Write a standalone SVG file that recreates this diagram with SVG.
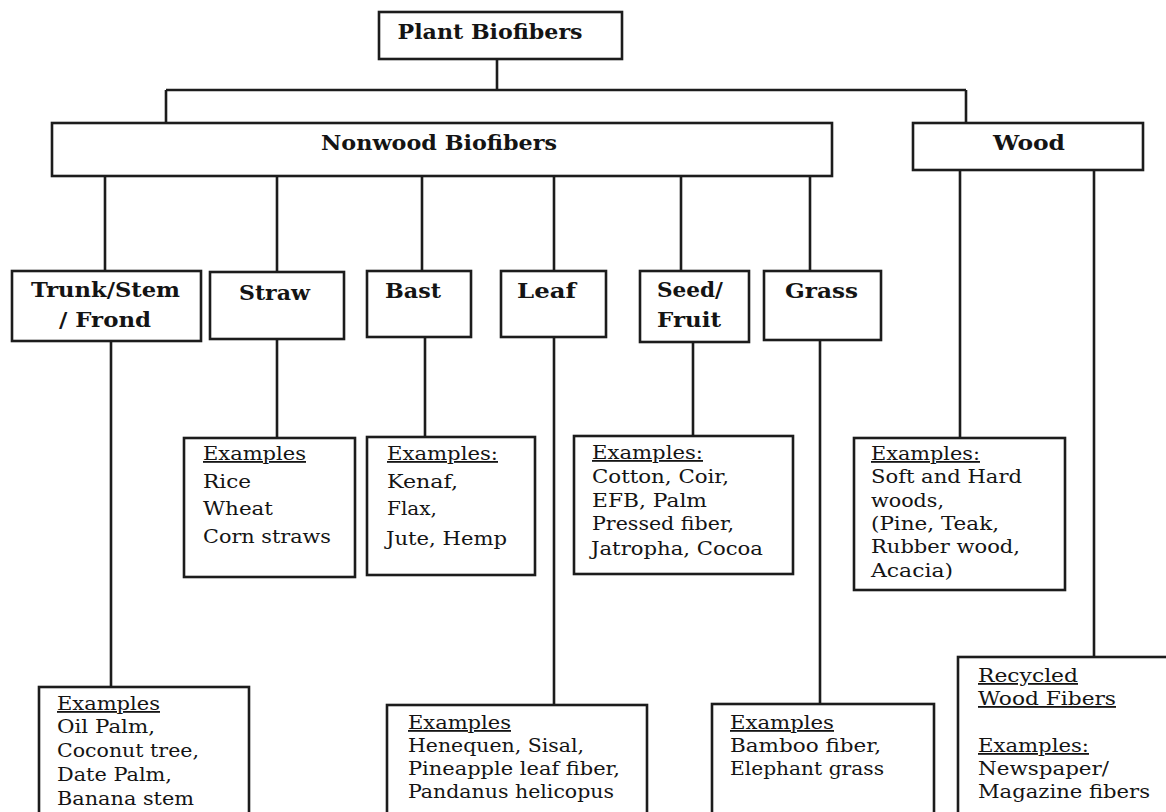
<svg xmlns="http://www.w3.org/2000/svg" width="1166" height="812" viewBox="0 0 1166 812">
<style>
.box{fill:#fff;stroke:#1c1c1c;stroke-width:2.6}
.ln{stroke:#1c1c1c;stroke-width:2.6;fill:none}
.h{font-family:"DejaVu Serif","Liberation Serif",serif;font-weight:bold;font-size:20px;fill:#141414}
.t{font-family:"DejaVu Serif","Liberation Serif",serif;font-size:18px;fill:#141414}
.u{text-decoration:underline}
</style>
<rect width="1166" height="812" fill="#fff"/>
<g id="connectors">
<path class="ln" d="M497,59V90M166,90H966M166,90V123M966,90V123"/>
<path class="ln" d="M105,176V271M277,176V272M422,176V271M554,176V271M681,176V271M810,176V271"/>
<path class="ln" d="M960,170V438M1094,170V657"/>
<path class="ln" d="M111,341V687M277,339V438M425,337V437M554,337V705M693,342V436M820,340V704"/>
</g>
<g id="plant"><rect class="box" x="379" y="12" width="243" height="47"/><text class="h" x="490" y="39" text-anchor="middle" textLength="185" lengthAdjust="spacingAndGlyphs">Plant Biofibers</text></g>
<g id="nonwood"><rect class="box" x="52" y="123" width="780" height="53"/><text class="h" x="439" y="150" text-anchor="middle" textLength="236" lengthAdjust="spacingAndGlyphs">Nonwood Biofibers</text></g>
<g id="wood"><rect class="box" x="913" y="123" width="230" height="47"/><text class="h" x="1029" y="150" text-anchor="middle" textLength="72" lengthAdjust="spacingAndGlyphs">Wood</text></g>
<g id="trunk"><rect class="box" x="12" y="271" width="189" height="70"/><text class="h" x="31" y="297" textLength="149" lengthAdjust="spacingAndGlyphs">Trunk/Stem</text><text class="h" x="59" y="327" textLength="92" lengthAdjust="spacingAndGlyphs">/ Frond</text></g>
<g id="straw"><rect class="box" x="210" y="272" width="134" height="67"/><text class="h" x="239" y="300" textLength="71" lengthAdjust="spacingAndGlyphs">Straw</text></g>
<g id="bast"><rect class="box" x="367" y="271" width="104" height="66"/><text class="h" x="385" y="298" textLength="56" lengthAdjust="spacingAndGlyphs">Bast</text></g>
<g id="leaf"><rect class="box" x="501" y="271" width="105" height="66"/><text class="h" x="517" y="298" textLength="59" lengthAdjust="spacingAndGlyphs">Leaf</text></g>
<g id="seed"><rect class="box" x="640" y="271" width="109" height="71"/><text class="h" x="657" y="297" textLength="66" lengthAdjust="spacingAndGlyphs">Seed/</text><text class="h" x="657" y="327" textLength="64" lengthAdjust="spacingAndGlyphs">Fruit</text></g>
<g id="grass"><rect class="box" x="764" y="271" width="117" height="69"/><text class="h" x="785" y="298" textLength="73" lengthAdjust="spacingAndGlyphs">Grass</text></g>
<g id="trunk-ex"><rect class="box" x="39" y="687" width="210" height="140"/>
<text class="t u" x="57" y="710" textLength="103" lengthAdjust="spacingAndGlyphs">Examples</text>
<text class="t" x="57" y="733" textLength="98" lengthAdjust="spacingAndGlyphs">Oil Palm,</text>
<text class="t" x="57" y="757" textLength="142" lengthAdjust="spacingAndGlyphs">Coconut tree,</text>
<text class="t" x="57" y="781" textLength="115" lengthAdjust="spacingAndGlyphs">Date Palm,</text>
<text class="t" x="57" y="805" textLength="137" lengthAdjust="spacingAndGlyphs">Banana stem</text></g>
<g id="straw-ex"><rect class="box" x="184" y="438" width="171" height="139"/>
<text class="t u" x="203" y="460" textLength="103" lengthAdjust="spacingAndGlyphs">Examples</text>
<text class="t" x="203" y="488" textLength="48" lengthAdjust="spacingAndGlyphs">Rice</text>
<text class="t" x="203" y="515" textLength="70" lengthAdjust="spacingAndGlyphs">Wheat</text>
<text class="t" x="203" y="543" textLength="128" lengthAdjust="spacingAndGlyphs">Corn straws</text></g>
<g id="bast-ex"><rect class="box" x="367" y="437" width="168" height="138"/>
<text class="t u" x="387" y="460" textLength="111" lengthAdjust="spacingAndGlyphs">Examples:</text>
<text class="t" x="387" y="488" textLength="71" lengthAdjust="spacingAndGlyphs">Kenaf,</text>
<text class="t" x="387" y="515" textLength="50" lengthAdjust="spacingAndGlyphs">Flax,</text>
<text class="t" x="386" y="545" textLength="121" lengthAdjust="spacingAndGlyphs">Jute, Hemp</text></g>
<g id="leaf-ex"><rect class="box" x="387" y="705" width="260" height="120"/>
<text class="t u" x="408" y="729" textLength="103" lengthAdjust="spacingAndGlyphs">Examples</text>
<text class="t" x="408" y="752" textLength="176" lengthAdjust="spacingAndGlyphs">Henequen, Sisal,</text>
<text class="t" x="408" y="775" textLength="212" lengthAdjust="spacingAndGlyphs">Pineapple leaf fiber,</text>
<text class="t" x="408" y="798" textLength="206" lengthAdjust="spacingAndGlyphs">Pandanus helicopus</text></g>
<g id="seed-ex"><rect class="box" x="574" y="436" width="219" height="138"/>
<text class="t u" x="592" y="459" textLength="111" lengthAdjust="spacingAndGlyphs">Examples:</text>
<text class="t" x="592" y="483" textLength="137" lengthAdjust="spacingAndGlyphs">Cotton, Coir,</text>
<text class="t" x="592" y="507" textLength="115" lengthAdjust="spacingAndGlyphs">EFB, Palm</text>
<text class="t" x="592" y="530" textLength="142" lengthAdjust="spacingAndGlyphs">Pressed fiber,</text>
<text class="t" x="591" y="555" textLength="172" lengthAdjust="spacingAndGlyphs">Jatropha, Cocoa</text></g>
<g id="grass-ex"><rect class="box" x="712" y="704" width="222" height="120"/>
<text class="t u" x="730" y="729" textLength="104" lengthAdjust="spacingAndGlyphs">Examples</text>
<text class="t" x="730" y="752" textLength="151" lengthAdjust="spacingAndGlyphs">Bamboo fiber,</text>
<text class="t" x="730" y="775" textLength="154" lengthAdjust="spacingAndGlyphs">Elephant grass</text></g>
<g id="wood-ex"><rect class="box" x="854" y="438" width="211" height="152"/>
<text class="t u" x="871" y="460" textLength="109" lengthAdjust="spacingAndGlyphs">Examples:</text>
<text class="t" x="871" y="483" textLength="151" lengthAdjust="spacingAndGlyphs">Soft and Hard</text>
<text class="t" x="871" y="507" textLength="73" lengthAdjust="spacingAndGlyphs">woods,</text>
<text class="t" x="871" y="530" textLength="128" lengthAdjust="spacingAndGlyphs">(Pine, Teak,</text>
<text class="t" x="871" y="553" textLength="149" lengthAdjust="spacingAndGlyphs">Rubber wood,</text>
<text class="t" x="871" y="577" textLength="82" lengthAdjust="spacingAndGlyphs">Acacia)</text></g>
<g id="recycled"><rect class="box" x="958" y="657" width="220" height="170"/>
<text class="t u" x="978" y="682" textLength="100" lengthAdjust="spacingAndGlyphs">Recycled</text>
<text class="t u" x="978" y="705" textLength="138" lengthAdjust="spacingAndGlyphs">Wood Fibers</text>
<text class="t u" x="978" y="752" textLength="111" lengthAdjust="spacingAndGlyphs">Examples:</text>
<text class="t" x="978" y="775" textLength="131" lengthAdjust="spacingAndGlyphs">Newspaper/</text>
<text class="t" x="978" y="798" textLength="172" lengthAdjust="spacingAndGlyphs">Magazine fibers</text></g>
</svg>
